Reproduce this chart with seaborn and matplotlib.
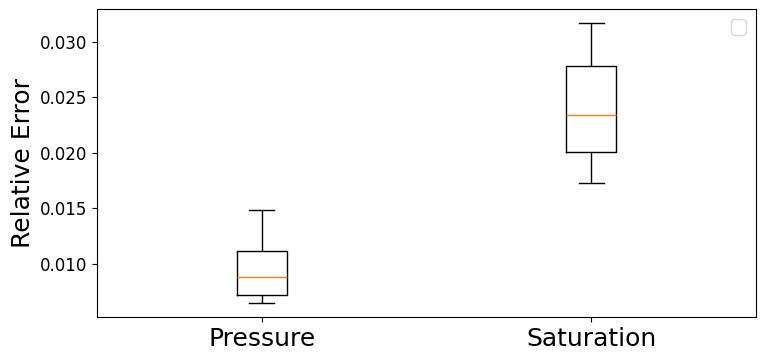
import matplotlib
matplotlib.use("Agg")
import matplotlib.pyplot as plt
import seaborn as sns
import pandas as pd

categories = ["Pressure", "Saturation"]
# five-point summaries: low whisker, Q1, median, Q3, high whisker
pressure_vals = [0.00642, 0.00720, 0.00883, 0.01111, 0.01481]
saturation_vals = [0.01731, 0.02002, 0.02336, 0.02778, 0.03166]
ylabel = "Relative Error"

df = pd.DataFrame({
    "category": [categories[0]] * len(pressure_vals) + [categories[1]] * len(saturation_vals),
    "value": pressure_vals + saturation_vals,
})

fig = plt.figure(figsize=(7.65, 3.61), dpi=100)
ax = fig.add_axes([0.127, 0.121, 0.861, 0.853])

sns.boxplot(
    data=df, x="category", y="value", ax=ax,
    width=0.15, fill=False, color="black", linewidth=1.0, whis=1.5,
    boxprops=dict(color="black", linewidth=1.0),
    whiskerprops=dict(color="black", linewidth=1.0),
    capprops=dict(color="black", linewidth=1.0),
    medianprops=dict(color="#ff7f0e", linewidth=1.0),
    showfliers=False, gap=0,
)

ax.set_xlim(-0.5, 1.5)
ax.set_xlabel("")
ax.set_ylabel(ylabel, fontsize=18)
ax.tick_params(axis="x", labelsize=18)
ax.tick_params(axis="y", labelsize=12)
ax.set_yticks([0.010, 0.015, 0.020, 0.025, 0.030])
ax.set_yticklabels(["0.010", "0.015", "0.020", "0.025", "0.030"])
ax.legend(loc="upper right", fontsize=14)

fig.savefig("out.png", dpi=100)
